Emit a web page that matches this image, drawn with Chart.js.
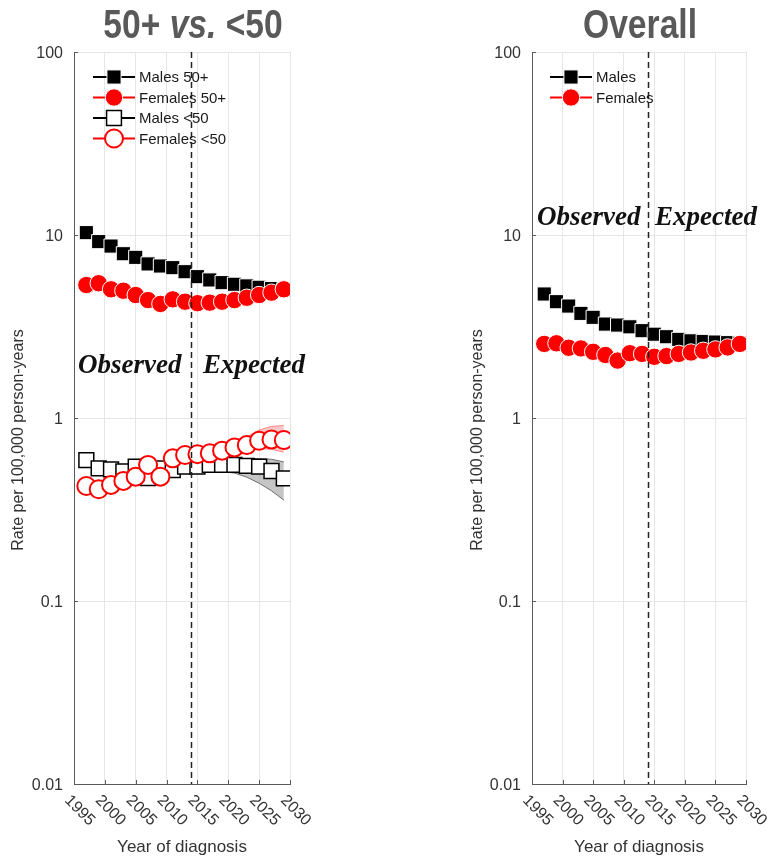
<!DOCTYPE html>
<html>
<head>
<meta charset="utf-8">
<script src="https://cdn.jsdelivr.net/npm/chart.js@4.4.1/dist/chart.umd.min.js"></script>
<style>
  html, body { margin: 0; padding: 0; background: #ffffff; }
  #wrap { position: relative; width: 767px; height: 858px; overflow: hidden; }
  .box { position: absolute; top: 0; height: 858px; }
</style>
</head>
<body>
<div id="wrap">
  <div class="box" style="left:0;width:383px"><canvas id="c1"></canvas></div>
  <div class="box" style="left:383px;width:384px"><canvas id="c2"></canvas></div>
</div>
<script>
// ---------------- DATA ----------------
const years = [1997,1999,2001,2003,2005,2007,2009,2011,2013,2015,2017,2019,2021,2023,2025,2027,2029];

// Panel 1: 50+ vs. <50
const males50Plus    = [10.3,9.2,8.7,7.9,7.55,6.95,6.77,6.63,6.3,5.92,5.68,5.49,5.38,5.27,5.18,5.1,5.02];
const females50Plus  = [5.33,5.45,5.05,4.96,4.70,4.41,4.20,4.45,4.32,4.24,4.27,4.32,4.41,4.54,4.70,4.84,5.05];
const malesUnder50   = [0.589,0.531,0.524,0.51,0.542,0.47,0.53,0.52,0.542,0.542,0.554,0.554,0.554,0.547,0.542,0.513,0.468];
const femalesUnder50 = [0.425,0.408,0.431,0.453,0.478,0.554,0.478,0.602,0.628,0.634,0.641,0.663,0.691,0.711,0.751,0.764,0.758];

// projection intervals (expected period)
const bandYears           = [2013,2015,2017,2019,2021,2023,2025,2027,2029];
const malesUnder50Lower   = [0.53,0.52,0.52,0.51,0.50,0.475,0.44,0.40,0.356];
const malesUnder50Upper   = [0.555,0.565,0.575,0.585,0.595,0.60,0.60,0.595,0.575];
const femalesUnder50Lower = [0.61,0.615,0.62,0.635,0.655,0.665,0.68,0.675,0.65];
const femalesUnder50Upper = [0.65,0.665,0.68,0.71,0.75,0.79,0.86,0.9,0.91];

// Panel 2: Overall
const malesOverall   = [4.76,4.32,4.09,3.73,3.55,3.26,3.22,3.15,3.00,2.87,2.78,2.69,2.64,2.62,2.60,2.58,2.56];
const femalesOverall = [2.54,2.56,2.42,2.40,2.30,2.21,2.06,2.26,2.24,2.16,2.18,2.24,2.28,2.33,2.37,2.43,2.54];

// axes
const xTickValues = [1995,2000,2005,2010,2015,2020,2025,2030];
const xTickLabels = ['1995','2000','2005','2010','2015','2020','2025','2030'];
const yTickValues = [0.01,0.1,1,10,100];
const yTickLabels = ['0.01','0.1','1','10','100'];
const projectionStartYear = 2014;

// ---------------- STYLES ----------------
const SANS = '"Liberation Sans", Arial, Helvetica, sans-serif';
const SERIF = '"Liberation Serif", "Times New Roman", serif';
const GRID = '#e6e6e6';
const AXIS = '#5a5a5a';
const TXT = '#333333';

const ST = {
  maleFilled:   { pointStyle: 'rect',   pointRadius: 10,   pointBackgroundColor: '#000000', pointBorderColor: '#ffffff', pointBorderWidth: 1 },
  femaleFilled: { pointStyle: 'circle', pointRadius: 8.7,  pointBackgroundColor: '#ff0000', pointBorderColor: '#ffffff', pointBorderWidth: 1 },
  maleOpen:     { pointStyle: 'rect',   pointRadius: 10.5, pointBackgroundColor: '#ffffff', pointBorderColor: '#000000', pointBorderWidth: 1.5 },
  femaleOpen:   { pointStyle: 'circle', pointRadius: 9,    pointBackgroundColor: '#ffffff', pointBorderColor: '#ff0000', pointBorderWidth: 2 }
};

function pts(xs, ys) { return xs.map((x, i) => ({ x: x, y: ys[i] })); }

function markerSet(label, ys, style, order) {
  return Object.assign({ label: label, data: pts(years, ys), showLine: false, order: order,
    pointHoverRadius: style.pointRadius, borderWidth: 0 }, style);
}
function bandEdge(label, ys, edge, fillCol, fill, order) {
  return { label: label, data: pts(bandYears, ys), showLine: true, pointRadius: 0, borderColor: edge,
    borderWidth: 1, backgroundColor: fillCol, fill: fill, tension: 0, order: order };
}

// draw a marker for the legend (same look as the dataset)
function drawMarker(ctx, style, x, y) {
  const r = style.pointRadius;
  ctx.save();
  ctx.fillStyle = style.pointBackgroundColor;
  ctx.strokeStyle = style.pointBorderColor;
  ctx.lineWidth = style.pointBorderWidth;
  ctx.beginPath();
  if (style.pointStyle === 'rect') {
    const s = Math.SQRT1_2 * r;
    ctx.rect(x - s, y - s, 2 * s, 2 * s);
  } else {
    ctx.arc(x, y, r, 0, Math.PI * 2);
  }
  ctx.fill();
  ctx.stroke();
  ctx.restore();
}

const decor = {
  id: 'decor',
  afterDatasetsDraw(chart, args, o) {
    const { ctx, chartArea: a } = chart;
    const xs = chart.scales.x, ys = chart.scales.y;
    ctx.save();

    // inward tick marks
    ctx.strokeStyle = AXIS; ctx.lineWidth = 1;
    xTickValues.forEach(v => {
      const px = Math.round(xs.getPixelForValue(v)) + 0.5;
      ctx.beginPath(); ctx.moveTo(px, a.bottom); ctx.lineTo(px, a.bottom - 4); ctx.stroke();
    });
    yTickValues.forEach(v => {
      const py = Math.round(ys.getPixelForValue(v)) + 0.5;
      ctx.beginPath(); ctx.moveTo(a.left, py); ctx.lineTo(a.left + 4, py); ctx.stroke();
    });

    // legend (MATLAB style: line through marker)
    ctx.font = '15px ' + SANS;
    ctx.textAlign = 'left'; ctx.textBaseline = 'middle';
    o.legend.forEach((it, i) => {
      const ly = o.legendY + i * 20.5;
      const lx = a.left + o.legendX;
      ctx.strokeStyle = it.line; ctx.lineWidth = 2;
      ctx.beginPath(); ctx.moveTo(lx, ly); ctx.lineTo(lx + 42, ly); ctx.stroke();
      drawMarker(ctx, it.style, lx + 21, ly);
      ctx.fillStyle = '#1a1a1a';
      ctx.fillText(it.text, lx + 46, ly + 1);
    });

    // Observed / Expected labels
    ctx.font = 'italic bold 27px ' + SERIF;
    ctx.fillStyle = '#111111';
    ctx.textBaseline = 'middle';
    ctx.fillText('Observed', a.left + o.obsDx, o.obsY);
    ctx.fillText('Expected', a.left + o.expDx, o.obsY);

    // dashed projection line
    const dx = Math.round(xs.getPixelForValue(projectionStartYear)) + 0.5;
    ctx.strokeStyle = '#222222'; ctx.lineWidth = 1.5; ctx.setLineDash([6, 4]);
    ctx.beginPath(); ctx.moveTo(dx, a.top); ctx.lineTo(dx, a.bottom); ctx.stroke();
    ctx.setLineDash([]);

    // x tick labels (rotated)
    ctx.font = '16px ' + SANS;
    ctx.fillStyle = TXT;
    ctx.textAlign = 'left'; ctx.textBaseline = 'middle';
    xTickValues.forEach((v, i) => {
      const px = xs.getPixelForValue(v);
      ctx.save();
      ctx.translate(px - 7, a.bottom + 14);
      ctx.rotate(Math.PI / 4);
      ctx.fillText(xTickLabels[i], 0, 0);
      ctx.restore();
    });

    // axis titles
    ctx.fillStyle = TXT;
    ctx.font = '17px ' + SANS;
    ctx.textAlign = 'center'; ctx.textBaseline = 'middle';
    ctx.fillText('Year of diagnosis', (a.left + a.right) / 2, 847);
    ctx.save();
    ctx.translate(o.yTitleX, 440);
    ctx.rotate(-Math.PI / 2);
    ctx.font = '16px ' + SANS;
    ctx.fillText('Rate per 100,000 person-years', 0, 0);
    ctx.restore();

    // panel title (condensed bold)
    ctx.save();
    ctx.fillStyle = '#595959';
    ctx.textBaseline = 'alphabetic';
    ctx.textAlign = 'left';
    const sx = 0.82;
    const parts = o.title;
    let total = 0;
    parts.forEach(p => { ctx.font = p.font + ' 41px ' + SANS; total += ctx.measureText(p.t).width; });
    ctx.translate(o.titleCx, 38);
    ctx.scale(sx, 1);
    let cx = -total / 2;
    parts.forEach(p => { ctx.font = p.font + ' 41px ' + SANS; ctx.fillText(p.t, cx, 0); cx += ctx.measureText(p.t).width; });
    ctx.restore();

    ctx.restore();
  }
};

function baseOptions(leftW, rightPad, decorOpts) {
  return {
    responsive: true,
    maintainAspectRatio: false,
    animation: false,
    events: [],
    layout: { padding: { left: 0, right: rightPad, top: 52, bottom: 74 } },
    plugins: { legend: { display: false }, tooltip: { enabled: false }, title: { display: false }, decor: decorOpts },
    scales: {
      x: {
        type: 'linear', min: 1995, max: 2030,
        afterBuildTicks: s => { s.ticks = xTickValues.map(v => ({ value: v })); },
        ticks: { display: false },
        grid: { color: GRID, drawTicks: false, lineWidth: 1 },
        border: { display: true, color: AXIS, width: 1 },
        afterFit: s => { s.height = 0; }
      },
      y: {
        type: 'logarithmic', min: 0.01, max: 100,
        afterBuildTicks: s => { s.ticks = yTickValues.map(v => ({ value: v })); },
        ticks: {
          callback: (v) => { const i = yTickValues.findIndex(t => Math.abs(t - v) / t < 1e-6); return i >= 0 ? yTickLabels[i] : ''; },
          font: { size: 16, family: SANS }, color: TXT, padding: 11, autoSkip: false, labelOffset: 2
        },
        grid: { color: GRID, drawTicks: false, lineWidth: 1 },
        border: { display: true, color: AXIS, width: 1 },
        afterFit: s => { s.width = leftW; }
      }
    }
  };
}

// ---------------- CHART 1 ----------------
new Chart(document.getElementById('c1'), {
  type: 'line',
  data: {
    datasets: [
      markerSet('Females <50', femalesUnder50, ST.femaleOpen, 1),
      markerSet('Males <50', malesUnder50, ST.maleOpen, 2),
      markerSet('Females 50+', females50Plus, ST.femaleFilled, 3),
      markerSet('Males 50+', males50Plus, ST.maleFilled, 4),
      bandEdge('Males <50 lower', malesUnder50Lower, '#6e6e6e', 'rgba(150,150,150,0.55)', false, 10),
      bandEdge('Males <50 upper', malesUnder50Upper, '#6e6e6e', 'rgba(150,150,150,0.55)', '-1', 10),
      bandEdge('Females <50 lower', femalesUnder50Lower, 'rgba(255,80,80,0.6)', 'rgba(255,0,0,0.22)', false, 9),
      bandEdge('Females <50 upper', femalesUnder50Upper, 'rgba(255,80,80,0.6)', 'rgba(255,0,0,0.22)', '-1', 9)
    ]
  },
  options: baseOptions(74, 93, {
    legend: [
      { text: 'Males 50+', line: '#000000', style: ST.maleFilled },
      { text: 'Females 50+', line: '#ff0000', style: ST.femaleFilled },
      { text: 'Males <50', line: '#000000', style: ST.maleOpen },
      { text: 'Females <50', line: '#ff0000', style: ST.femaleOpen }
    ],
    legendX: 19, legendY: 77,
    obsDx: 4, expDx: 129, obsY: 366,
    yTitleX: 19,
    titleCx: 193,
    title: [ { t: '50+ ', font: 'bold' }, { t: 'vs.', font: 'italic bold' }, { t: ' <50', font: 'bold' } ]
  }),
  plugins: [decor]
});

// ---------------- CHART 2 ----------------
new Chart(document.getElementById('c2'), {
  type: 'line',
  data: {
    datasets: [
      markerSet('Females', femalesOverall, ST.femaleFilled, 1),
      markerSet('Males', malesOverall, ST.maleFilled, 2)
    ]
  },
  options: baseOptions(149, 21, {
    legend: [
      { text: 'Males', line: '#000000', style: ST.maleFilled },
      { text: 'Females', line: '#ff0000', style: ST.femaleFilled }
    ],
    legendX: 18, legendY: 77,
    obsDx: 5, expDx: 123, obsY: 218,
    yTitleX: 95,
    titleCx: 257,
    title: [ { t: 'Overall', font: 'bold' } ]
  }),
  plugins: [decor]
});
</script>
</body>
</html>
